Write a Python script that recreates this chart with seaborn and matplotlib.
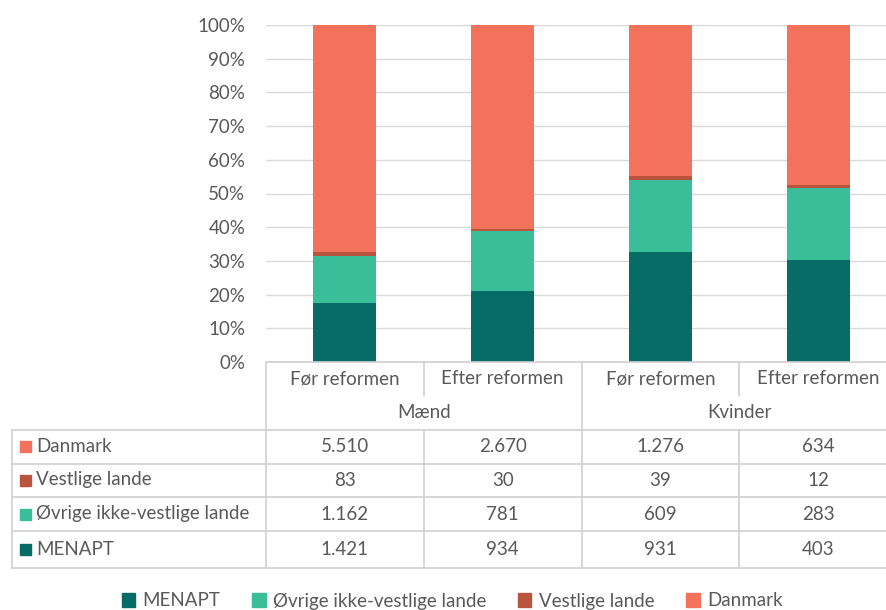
import numpy as np
import pandas as pd
import seaborn as sns
import matplotlib.pyplot as plt
from matplotlib.patches import Patch, Rectangle
from matplotlib.ticker import PercentFormatter
from matplotlib.transforms import blended_transform_factory

# Data
groups = ['Mænd', 'Kvinder']
periods = ['Før reformen', 'Efter reformen']
series = ['MENAPT', 'Øvrige ikke-vestlige lande', 'Vestlige lande', 'Danmark']
menapt = [1421, 934, 931, 403]
ovrige = [1162, 781, 609, 283]
vestlige = [83, 30, 39, 12]
danmark = [5510, 2670, 1276, 634]
colors = ['#076B66', '#3ABD99', '#B9553F', '#F2725C']

counts = np.array([menapt, ovrige, vestlige, danmark], dtype=float)
shares = counts / counts.sum(axis=0)
cum = shares.cumsum(axis=0)
keys = [f'{g} {p}' for g in groups for p in periods]

sns.set_style('white')
plt.rcParams['font.family'] = ['Lato', 'DejaVu Sans']
txt = '#595959'
grid = '#D9D9D9'
fs = 13.5

W, H = 887, 610
fig = plt.figure(figsize=(W / 100, H / 100), dpi=100)
ax = fig.add_axes([266 / W, 1 - 362 / H, 631 / W, 337 / H])

# stacked bars: draw cumulative totals from the top down
for i in range(len(series) - 1, -1, -1):
    df = pd.DataFrame({'key': keys, 'val': cum[i]})
    sns.barplot(data=df, x='key', y='val', color=colors[i], width=0.4,
                saturation=1, linewidth=0, ax=ax, zorder=3)

ax.set_ylim(0, 1)
ax.set_xlim(-0.5, 3.5)
ax.set_yticks(np.arange(0, 1.01, 0.1))
ax.yaxis.set_major_formatter(PercentFormatter(1, decimals=0))
ax.grid(axis='y', color=grid, lw=1, zorder=0)
ax.set_xticks([])
ax.set_xlabel('')
ax.set_ylabel('')
ax.tick_params(axis='y', length=0, labelsize=fs, labelcolor=txt, pad=15)
for s in ax.spines.values():
    s.set_visible(False)

# data table below the chart
tr = blended_transform_factory(ax.transData, fig.transFigure)
def fy(px):
    return 1 - px / H

lc = '#D0D0D0'
left = -0.5 - 254 / 157.7
right = 3.5
# horizontal lines
fig.add_artist(plt.Line2D([-0.5, right], [fy(362), fy(362)], transform=tr, color=lc, lw=1.2))
for y in [430, 463.5, 497, 531, 568]:
    fig.add_artist(plt.Line2D([left, right], [fy(y), fy(y)], transform=tr, color=lc, lw=1.2))
# vertical lines
fig.add_artist(plt.Line2D([-0.5, -0.5], [fy(362), fy(568)], transform=tr, color=lc, lw=1.2))
fig.add_artist(plt.Line2D([left, left], [fy(430), fy(568)], transform=tr, color=lc, lw=1.2))
fig.add_artist(plt.Line2D([1.5, 1.5], [fy(362), fy(568)], transform=tr, color=lc, lw=1.2))
for x in [0.5, 2.5]:
    fig.add_artist(plt.Line2D([x, x], [fy(362), fy(396)], transform=tr, color=lc, lw=1.2))
    fig.add_artist(plt.Line2D([x, x], [fy(430), fy(568)], transform=tr, color=lc, lw=1.2))

# header rows
for j, k in enumerate(keys):
    fig.text(j, fy(379), periods[j % 2], transform=tr, ha='center', va='center',
             fontsize=fs, color=txt)
for g, name in enumerate(groups):
    fig.text(2 * g + 0.5, fy(412), name, transform=tr, ha='center', va='center',
             fontsize=fs, color=txt)

# value rows: Danmark on top, MENAPT at the bottom
row_y = [549.5, 514, 480, 446.5]
for i in range(len(series)):
    y = fy(row_y[i])
    fig.text(left + 0.155, y, series[i], transform=tr, ha='left', va='center',
             fontsize=fs, color=txt)
    fig.add_artist(Rectangle((left + 0.05, y - 5.5 / H), 11 / 157.7, 11 / H,
                             transform=tr, color=colors[i]))
    for j in range(len(keys)):
        v = f'{int(counts[i, j]):,}'.replace(',', '.')
        fig.text(j, y, v, transform=tr, ha='center', va='center',
                 fontsize=fs, color=txt)

handles = [Patch(color=c, label=s) for c, s in zip(colors, series)]
fig.legend(handles=handles, loc='center', bbox_to_anchor=(0.51, fy(601)), ncol=4,
           frameon=False, fontsize=fs, labelcolor=txt, handlelength=0.7,
           handleheight=0.7, handletextpad=0.4, columnspacing=1.7)

fig.savefig('out.png', dpi=100)
